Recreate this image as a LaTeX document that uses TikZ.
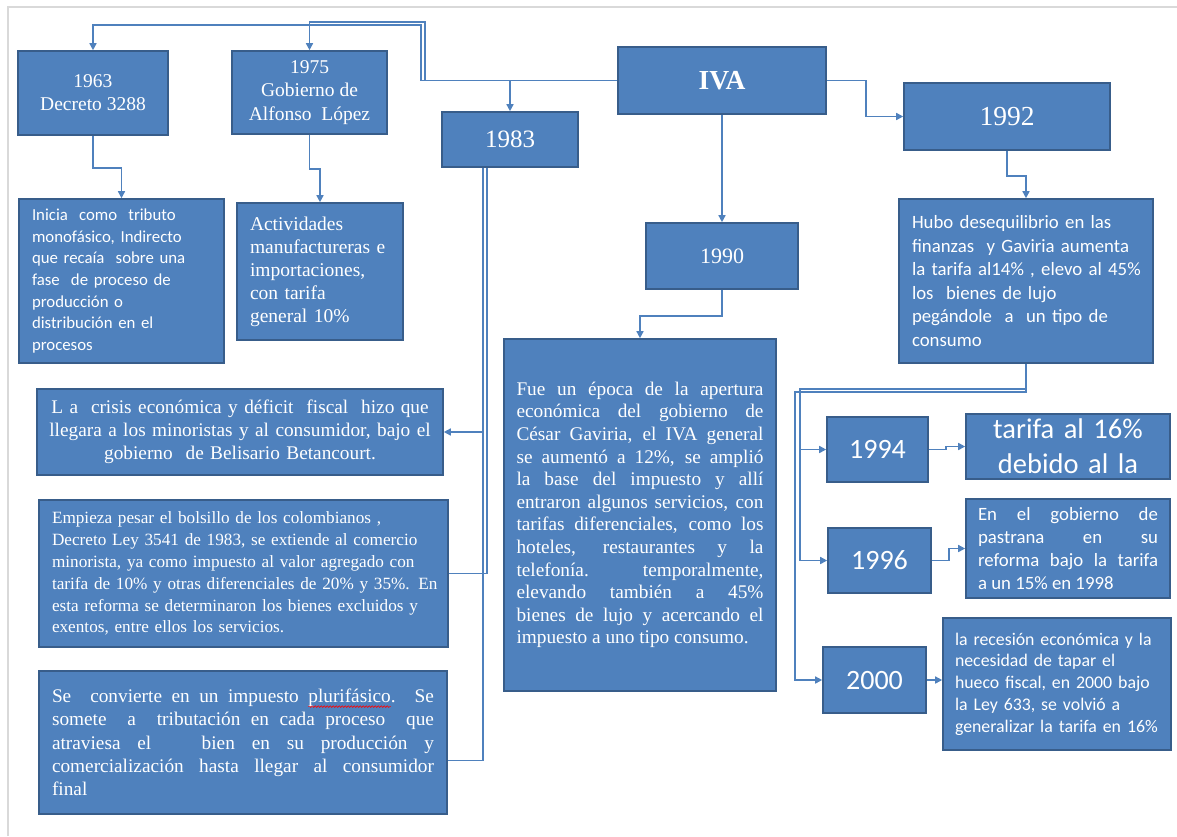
\documentclass[tikz,border=0pt]{standalone}
\usepackage{fontspec}
\setmainfont{Liberation Serif}
\newfontfamily\calib{Carlito}
\usetikzlibrary{arrows.meta,decorations.pathmorphing}
\definecolor{boxfill}{HTML}{4F81BD}
\definecolor{boxline}{HTML}{385D8A}
\definecolor{conncol}{HTML}{4F81BD}
\definecolor{framecol}{HTML}{D9D9D9}
\newsavebox\wavebox
\newcommand\spellwave[1]{\sbox\wavebox{#1}\rlap{\tikz[overlay,baseline=0pt]\draw[red,line width=0.6pt,decorate,decoration={snake,amplitude=0.8pt,segment length=3pt}] (0pt,-4pt) -- (\wd\wavebox,-4pt);}\usebox\wavebox}
\tikzset{
  bx/.style={draw=boxline, fill=boxfill, line width=1.6pt, text=white, inner sep=0pt},
  conn/.style={draw=conncol, line width=1.5pt},
  arr/.style={conn, -{Triangle[length=7pt,width=7pt]}},
  fs/.style 2 args={font=\fontsize{#1}{#2}\selectfont},
  cs/.style 2 args={font=\calib\fontsize{#1}{#2}\selectfont},
}
\begin{document}
\begin{tikzpicture}[x=1pt,y=-1pt]
\useasboundingbox (0,0) rectangle (1177,836);
\draw[framecol, line width=1.5pt] (8,836) -- (8,7) -- (1177,7);

% top row
\node[bx, minimum width=150pt, minimum height=84pt, fs={19.5}{23}, align=center] (y1963) at (93,93) {1963\\Decreto 3288};
\node[bx, minimum width=155pt, minimum height=83pt, fs={19.5}{23.5}, align=center] (y1975) at (309.5,92.5) {1975\\Gobierno de\\Alfonso\ \ López};
\node[bx, minimum width=136pt, minimum height=55pt, fs={25}{28}] (y1983) at (510,139.5) {1983};
\node[bx, minimum width=208pt, minimum height=67pt, font=\bfseries\fontsize{27.5}{30}\selectfont] (iva) at (722,80.5) {IVA};
\node[bx, minimum width=206pt, minimum height=67pt, fs={27.5}{30}] (y1992) at (1007,116.5) {1992};
\node[bx, minimum width=152pt, minimum height=66pt, fs={22}{25}] (y1990) at (722,256) {1990};

% left column
\node[bx, minimum width=205pt, minimum height=164pt, text width=179pt, align=left, cs={16.8}{21.7}] (inicia) at (121.5,281)
 {Inicia\ \ como\ \ tributo\\monofásico, Indirecto\\que recaía\ \ sobre una\\fase\ \ de proceso de\\producción o\\distribución en el\\procesos};
\node[bx, minimum width=166pt, minimum height=137pt, text width=140pt, align=left, fs={19.5}{23}] (act) at (320,271.5)
 {Actividades\\manufactureras e\\importaciones,\\con tarifa\\general 10\%};
\node[bx, minimum width=406pt, minimum height=86pt, text width=392pt, align=center, fs={19.3}{23}] (crisis) at (240,432)
 {L a\ \ crisis económica y déficit\ \ fiscal\ \ hizo que\\llegara a los minoristas y al consumidor, bajo el\\gobierno\ \ de Belisario Betancourt.};
\node[bx, minimum width=409pt, minimum height=147pt, text width=392pt, align=left, fs={17.2}{21.9}] (empieza) at (243.5,573.5)
 {\hspace*{4.5pt}Empieza pesar el bolsillo de los colombianos ,\\\hspace*{4.5pt}Decreto Ley 3541 de 1983, se extiende al comercio\\\hspace*{4.5pt}minorista, ya como impuesto al valor agregado con\\\hspace*{4.5pt}tarifa de 10\% y otras diferenciales de 20\% y 35\%. En\\\hspace*{4.5pt}esta reforma se determinaron los bienes excluidos y\\\hspace*{4.5pt}exentos, entre ellos los servicios.};
\node[bx, minimum width=408pt, minimum height=143pt, text width=382pt, align=justify, fs={19.3}{23.3}] (seconv) at (243,742.5)
 {Se\ \ convierte en un impuesto \spellwave{plurifásico}.\ \ Se\linebreak somete\ \ a\ \ tributación en cada proceso\ \ que\linebreak atraviesa el\ \ \ bien en su producción y\linebreak comercialización hasta llegar al consumidor\linebreak final};

% middle
\node[bx, minimum width=272pt, minimum height=352pt, text width=247pt, align=justify, fs={19.3}{22.6}] (fue) at (640,515)
 {Fue un época de la apertura\linebreak económica del gobierno de\linebreak César Gaviria, el IVA general\linebreak se aumentó a 12\%, se amplió\linebreak la base del impuesto y allí\linebreak entraron algunos servicios, con\linebreak tarifas diferenciales, como los\linebreak hoteles, restaurantes y la\linebreak telefonía. temporalmente,\linebreak elevando también a 45\%\linebreak bienes de lujo y acercando el\linebreak impuesto a uno tipo consumo.};

% right column
\node[bx, minimum width=254pt, minimum height=164pt, text width=236pt, align=left, cs={18.8}{23.5}] (hubo) at (1026,281)
 {\hspace*{4pt}Hubo desequilibrio en las\\\hspace*{4pt}finanzas\ \ y Gaviria aumenta\\\hspace*{4pt}la tarifa al14\% , elevo al 45\%\\\hspace*{4pt}los\ \ bienes de lujo\\\hspace*{4pt}pegándole\ \ a\ \ un tipo de\\\hspace*{4pt}consumo};
\node[bx, minimum width=101pt, minimum height=65pt, cs={28}{32}] (y1994) at (877.5,449.5) {1994};
\node[bx, minimum width=204pt, minimum height=65pt, text width=190pt, align=center, cs={28.5}{35}] (tarifa) at (1068,446.5) {\raisebox{-4pt}{tarifa al 16\%}\\\raisebox{-4pt}{debido al la}};
\node[bx, minimum width=103pt, minimum height=65pt, cs={28}{32}] (y1996) at (879.5,560.5) {1996};
\node[bx, minimum width=204pt, minimum height=99pt, text width=180pt, align=justify, cs={18.8}{23}] (engob) at (1068,548.5)
 {En el gobierno de\linebreak pastrana en su\linebreak reforma bajo la tarifa\linebreak a un 15\% en 1998};
\node[bx, minimum width=103pt, minimum height=66pt, cs={28}{32}] (y2000) at (874.5,680) {2000};
\node[bx, minimum width=228pt, minimum height=132pt, text width=204pt, align=left, cs={17.8}{21.7}] (recesion) at (1057,684)
 {la recesión económica y la\\necesidad de tapar el\\hueco fiscal, en 2000 bajo\\la Ley 633, se volvió a\\generalizar la tarifa en 16\%};

% connectors
\draw[arr] (iva.west) -| (421,25) -| (y1963.north);
\draw[arr] (iva.west) -| (425,22) -| (y1975.north);
\draw[arr] (iva.west) -| (y1983.north);
\draw[arr] (iva.south) -- (y1990.north);
\draw[arr] (iva.east) -- ++(39,0) |- (y1992.west);
\draw[arr] (y1963.south) -- ++(0,32) -| (inicia.north);
\draw[arr] (y1975.south) -- ++(0,34) -| (act.north);
\draw[arr] (y1992.south) -- ++(0,25) -| (hubo.north);
\draw[arr] (y1990.south) -- ++(0,26) -| (fue.north);

\coordinate (v83a) at ([xshift=-27pt]y1983.south);
\coordinate (v83b) at ([xshift=-23pt]y1983.south);
\draw[arr] (v83a) |- (crisis.east);
\draw[conn] (v83b) |- (empieza.east);
\draw[conn] (v83a) |- ([yshift=-18pt]seconv.east);

\coordinate (hv1) at (795,392);
\coordinate (hv2) at (800,389);
\draw[arr] (hubo.south) |- (hv2) |- (y1994.west);
\draw[arr] (hubo.south) |- (hv2) |- (y1996.west);
\draw[arr] (hubo.south) |- (hv1) |- (y2000.west);
\draw[arr] (y1994.east) -- ++(17,0) |- (tarifa.west);
\draw[arr] (y1996.east) -- ++(17,0) |- (engob.west);
\draw[arr] (y2000.east) -- (y2000.east -| recesion.west);
\end{tikzpicture}
\end{document}
